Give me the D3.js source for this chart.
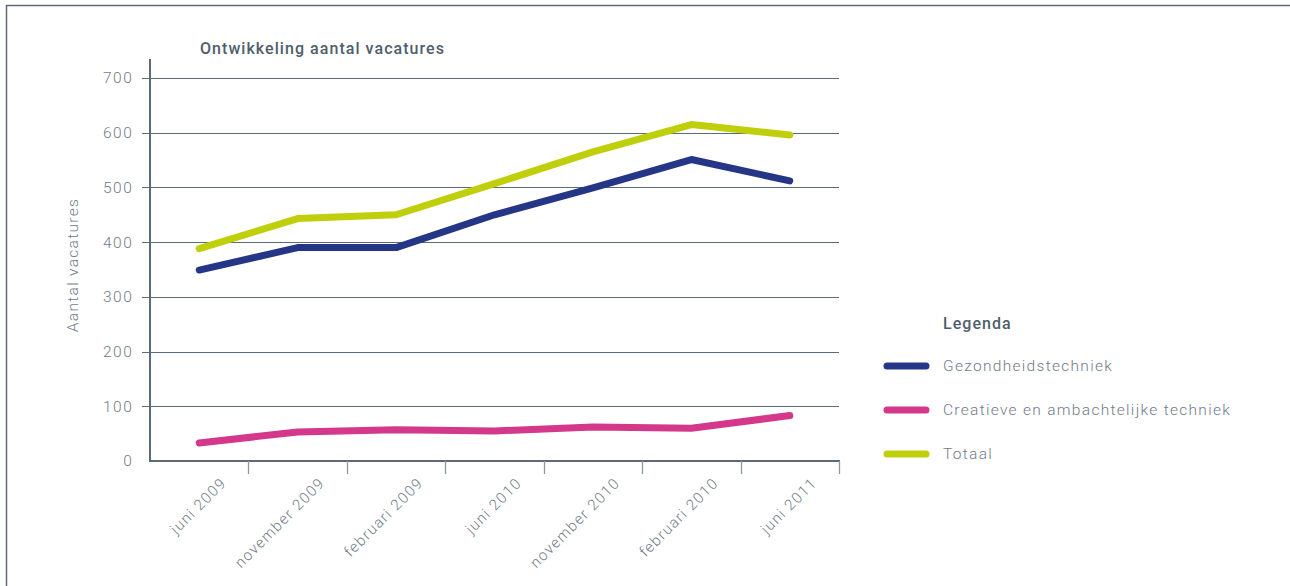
<!DOCTYPE html>
<html>
<head>
<meta charset="utf-8">
<script src="https://cdn.jsdelivr.net/npm/d3@7"></script>
<style>
  html, body { margin: 0; padding: 0; background: #fff; }
  svg { display: block; }
  text { font-family: Roboto, "Open Sans", sans-serif; }
</style>
</head>
<body>
<svg id="chart" width="1290" height="586"></svg>
<script>
const categories = ["juni 2009", "november 2009", "februari 2009", "juni 2010", "november 2010", "februari 2010", "juni 2011"];
const gezondheid = [349, 390, 390, 450, 499, 551, 512];
const creatief   = [33, 53, 57, 55, 62, 60, 83];
const totaal     = [388, 443, 450, 507, 565, 615, 596];
const seriesNames = ["Gezondheidstechniek", "Creatieve en ambachtelijke techniek", "Totaal"];
const yTicks = [0, 100, 200, 300, 400, 500, 600, 700];

(function () {
const colors = ["#253687", "#d4388a", "#bfcf0c"];
const series = [gezondheid, creatief, totaal];

const svg = d3.select("#chart");
const axisColor = "#5b6b79";
const textColor = "#6f7c89";
const lsp = 1.3;

// frame
svg.append("line").attr("x1", 6).attr("x2", 1290).attr("y1", 5.5).attr("y2", 5.5)
  .attr("stroke", axisColor).attr("stroke-width", 1.5);
svg.append("line").attr("x1", 6.5).attr("x2", 6.5).attr("y1", 5).attr("y2", 586)
  .attr("stroke", axisColor).attr("stroke-width", 1.5);

const pLeft = 150, pRight = 839, pTop = 78, pBottom = 461;

const x = d3.scaleBand().domain(categories).range([pLeft, pRight]);
const y = d3.scaleLinear().domain([0, 700]).range([pBottom, pTop]);

// gridlines
svg.append("g").selectAll("line").data(yTicks.filter(d => d > 0)).join("line")
  .attr("x1", pLeft - 8).attr("x2", pRight)
  .attr("y1", d => Math.round(y(d)) + 0.5).attr("y2", d => Math.round(y(d)) + 0.5)
  .attr("stroke", axisColor).attr("stroke-width", 1.2);

// y tick labels
svg.append("g").selectAll("text").data(yTicks).join("text")
  .attr("x", 133.5).attr("y", d => y(d))
  .attr("dy", "0.35em")
  .attr("text-anchor", "end")
  .attr("fill", textColor)
  .attr("font-size", 15.5).attr("font-weight", 300)
  .attr("letter-spacing", 1.6)
  .text(d => d);

// y axis line
svg.append("line").attr("x1", pLeft).attr("x2", pLeft).attr("y1", 59).attr("y2", pBottom + 1)
  .attr("stroke", axisColor).attr("stroke-width", 2);

// x axis
const xAxis = svg.append("g").attr("transform", `translate(0,${pBottom})`);
xAxis.append("line").attr("x1", pLeft).attr("x2", pRight + 1).attr("y1", 0).attr("y2", 0)
  .attr("stroke", axisColor).attr("stroke-width", 2);
const tickPositions = categories.map(c => x(c) + x.bandwidth());
xAxis.selectAll("line.tick").data(tickPositions).join("line").attr("class", "tick")
  .attr("x1", d => Math.round(d) + 0.5).attr("x2", d => Math.round(d) + 0.5)
  .attr("y1", 0).attr("y2", 13)
  .attr("stroke", "#8a97a3").attr("stroke-width", 1.3);
xAxis.selectAll("text").data(categories).join("text")
  .attr("transform", d => `translate(${x(d) + x.bandwidth() / 2 + 28},${23}) rotate(-45)`)
  .attr("text-anchor", "end")
  .attr("fill", textColor)
  .attr("font-size", 15).attr("font-weight", 300)
  .attr("letter-spacing", lsp)
  .text(d => d);

// y axis title
svg.append("text")
  .attr("transform", `translate(78,265) rotate(-90)`)
  .attr("text-anchor", "middle")
  .attr("fill", textColor)
  .attr("font-size", 15.5).attr("font-weight", 300)
  .attr("letter-spacing", lsp)
  .text("Aantal vacatures");

// chart title
svg.append("text").attr("x", 200).attr("y", 54)
  .attr("fill", "#4f5e6c").attr("font-size", 16).attr("font-weight", 500)
  .attr("letter-spacing", 1.05)
  .text("Ontwikkeling aantal vacatures");

// lines
const line = d3.line()
  .x((d, i) => x(categories[i]) + x.bandwidth() / 2)
  .y(d => y(d));
svg.append("g").selectAll("path").data(series).join("path")
  .attr("d", d => line(d))
  .attr("fill", "none")
  .attr("stroke", (d, i) => colors[i])
  .attr("stroke-width", 7)
  .attr("stroke-linecap", "round")
  .attr("stroke-linejoin", "round");

// legend
svg.append("text").attr("x", 943).attr("y", 329)
  .attr("fill", "#4f5e6c").attr("font-size", 16).attr("font-weight", 500)
  .attr("letter-spacing", 1.05)
  .text("Legenda");
const legY = [366, 410, 454];
const leg = svg.append("g").selectAll("g").data(seriesNames).join("g")
  .attr("transform", (d, i) => `translate(0,${legY[i]})`);
leg.append("line").attr("x1", 887).attr("x2", 926).attr("y1", 0).attr("y2", 0)
  .attr("stroke", (d, i) => colors[i]).attr("stroke-width", 7).attr("stroke-linecap", "round");
leg.append("text").attr("x", 943).attr("y", 0).attr("dy", "0.35em")
  .attr("fill", textColor).attr("font-size", 15.5).attr("font-weight", 300)
  .attr("letter-spacing", lsp)
  .text(d => d);
})();
</script>
</body>
</html>
